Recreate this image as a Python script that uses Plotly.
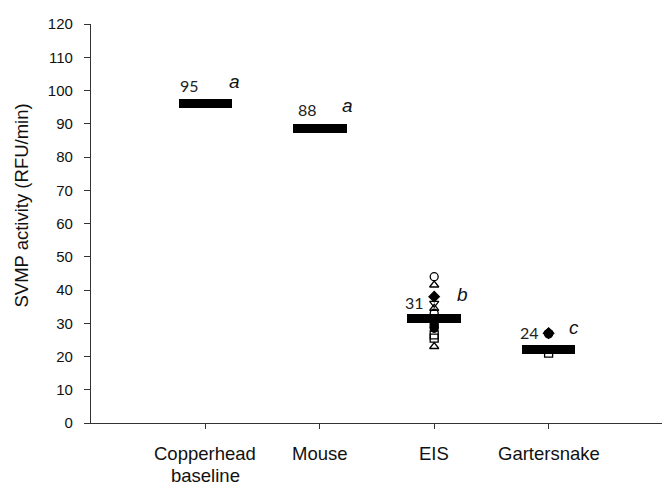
import plotly.graph_objects as go

categories = ["Copperhead<br>baseline", "Mouse", "EIS", "Gartersnake"]
cat_pos = [1, 2, 3, 4]
means = [96.2, 88.6, 31.5, 22.2]
mean_labels = ["95", "88", "31", "24"]
group_letters = ["a", "a", "b", "c"]

# individual points (EIS and Gartersnake)
eis_vals = [44, 41.5, 38, 36, 34.5, 33, 30, 28.5, 26.5, 25.5, 23]
eis_syms = ["circle-open", "triangle-up-open", "diamond", "triangle-down-open",
            "triangle-up-open", "circle-open", "square", "circle", "square-open",
            "square-open", "triangle-up-open"]
gs_vals = [27.2, 26.8, 27.0, 21.0]
gs_syms = ["pentagon", "circle", "diamond", "square-open"]

y_ticks = list(range(0, 121, 10))

fig = go.Figure()

# individual points
fig.add_trace(go.Scatter(
    x=[cat_pos[2]] * len(eis_vals), y=eis_vals, mode="markers",
    marker=dict(symbol=eis_syms, size=8, color="black",
                line=dict(color="black", width=1.3)),
    showlegend=False, hoverinfo="skip"))
fig.add_trace(go.Scatter(
    x=[cat_pos[3]] * len(gs_vals), y=gs_vals, mode="markers",
    marker=dict(symbol=gs_syms, size=8, color="black",
                line=dict(color="black", width=1.3)),
    showlegend=False, hoverinfo="skip"))

# mean bars (thick horizontal marks)
bar_h = 2.7
fig.add_trace(go.Bar(
    x=cat_pos, y=[bar_h] * len(means), base=[m - bar_h / 2 for m in means],
    width=0.47, marker=dict(color="black", line=dict(width=0)),
    showlegend=False, hoverinfo="skip"))

# value labels and letters
label_pos = [(0.864, 101.6), (1.894, 94.2), (2.83, 36.1), (3.83, 27.1)]
letter_pos = [(1.257, 102.8), (2.243, 95.4), (3.246, 38.7), (4.22, 28.6)]
for (lx, ly), t in zip(label_pos, mean_labels):
    fig.add_annotation(x=lx, y=ly, text=t, showarrow=False,
                       font=dict(family="Lato", size=16, color="#222"),
                       xanchor="center", yanchor="middle")
for (lx, ly), t in zip(letter_pos, group_letters):
    fig.add_annotation(x=lx, y=ly, text="<i>" + t + "</i>", showarrow=False,
                       font=dict(family="Liberation Sans, Arial", size=19, color="#111"),
                       xanchor="center", yanchor="middle")

# category labels (drawn as annotations for tight line spacing)
for xp, cat in zip(cat_pos, categories):
    for i, line in enumerate(cat.split("<br>")):
        fig.add_annotation(x=xp, xref="x", y=0, yref="paper", yshift=-(30 + 22 * i),
                           text=line, showarrow=False,
                           font=dict(family="Liberation Sans, Arial", size=18.5, color="#111"),
                           xanchor="center", yanchor="middle")

# y axis title
fig.add_annotation(xref="paper", yref="paper", x=0, xshift=-69, y=0.545,
                   text="SVMP activity (RFU/min)", textangle=-90, showarrow=False,
                   font=dict(family="Liberation Sans, Arial", size=18.5, color="#111"),
                   xanchor="center", yanchor="middle")

# page body has an 8px default margin; size/margins compensate for it
fig.update_layout(
    width=662, height=477,
    margin=dict(l=83, r=7, t=13, b=62),
    paper_bgcolor="white", plot_bgcolor="white",
    bargap=0,
    xaxis=dict(range=[0, 5], tickvals=cat_pos, ticktext=[""] * len(cat_pos),
               showgrid=False, zeroline=False, showline=True,
               linecolor="#333", linewidth=1.3, ticks="outside",
               ticklen=5, tickcolor="#333", tickwidth=1.3),
    yaxis=dict(range=[0, 120], tickvals=y_ticks,
               showgrid=False, zeroline=False, showline=True,
               linecolor="#333", linewidth=1.3, ticks="outside",
               ticklen=6, tickcolor="#333", tickwidth=1.3,
               ticklabelstandoff=8,
               tickfont=dict(family="Liberation Sans, Arial", size=15, color="#111")),
)

fig.write_html("out.html")
